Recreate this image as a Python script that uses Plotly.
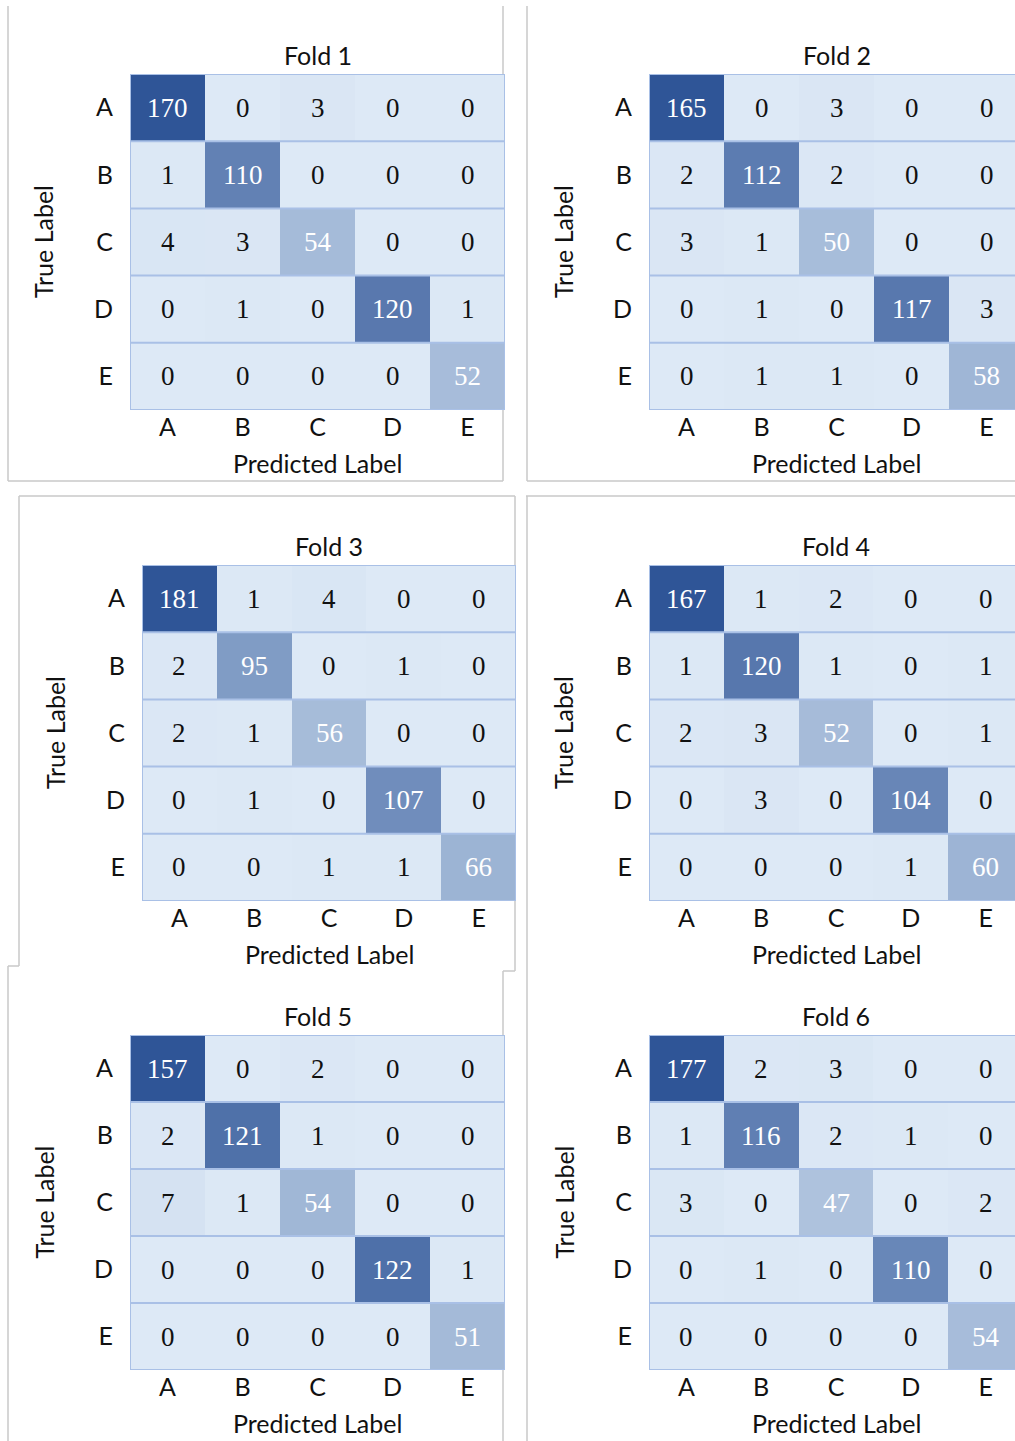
import plotly.graph_objects as go

W, H = 1015, 1441

labels = ["A", "B", "C", "D", "E"]
fold_names = ["Fold 1", "Fold 2", "Fold 3", "Fold 4", "Fold 5", "Fold 6"]

fold1 = [[170, 0, 3, 0, 0], [1, 110, 0, 0, 0], [4, 3, 54, 0, 0], [0, 1, 0, 120, 1], [0, 0, 0, 0, 52]]
fold2 = [[165, 0, 3, 0, 0], [2, 112, 2, 0, 0], [3, 1, 50, 0, 0], [0, 1, 0, 117, 3], [0, 1, 1, 0, 58]]
fold3 = [[181, 1, 4, 0, 0], [2, 95, 0, 1, 0], [2, 1, 56, 0, 0], [0, 1, 0, 107, 0], [0, 0, 1, 1, 66]]
fold4 = [[167, 1, 2, 0, 0], [1, 120, 1, 0, 1], [2, 3, 52, 0, 1], [0, 3, 0, 104, 0], [0, 0, 0, 1, 60]]
fold5 = [[157, 0, 2, 0, 0], [2, 121, 1, 0, 0], [7, 1, 54, 0, 0], [0, 0, 0, 122, 1], [0, 0, 0, 0, 51]]
fold6 = [[177, 2, 3, 0, 0], [1, 116, 2, 1, 0], [3, 0, 47, 0, 2], [0, 1, 0, 110, 0], [0, 0, 0, 0, 54]]
folds = [fold1, fold2, fold3, fold4, fold5, fold6]

x_title = "Predicted Label"
y_title = "True Label"

# layout (pixels): heatmap box x0, x1, y0, y1 ; y-title x
boxes = [
    (130, 505, 74, 410, 43),
    (649, 1024, 74, 410, 563),
    (142, 516, 565, 901, 55),
    (649, 1023, 565, 901, 563),
    (130, 505, 1035, 1370, 43),
    (649, 1023, 1035, 1370, 563),
]

SANS = "Lato, 'Open Sans', sans-serif"
SERIF = "'Liberation Serif', 'DejaVu Serif', serif"
TXT = "#111111"
COLORSCALE = [[0, "#dde9f6"], [0.52, "#819dc6"], [0.66, "#5f7eb2"], [1, "#2f5597"]]
BORDER = "#a9c0e6"
FRAME = "#c9c9c9"


def px(x):
    return x / W


def py(y):
    return 1 - y / H


fig = go.Figure()
annotations = []
shapes = []

for k, (z, name, box) in enumerate(zip(folds, fold_names, boxes), start=1):
    x0, x1, y0, y1, ytx = box
    cw = (x1 - x0) / 5.0
    xe = min(x1, W)
    xr_hi = -0.5 + (xe - x0) / cw
    xa = "x" if k == 1 else f"x{k}"
    ya = "y" if k == 1 else f"y{k}"
    zmax = max(max(r) for r in z)
    fig.add_trace(go.Heatmap(
        z=z, x=labels, y=labels, xaxis=xa, yaxis=ya,
        zmin=0, zmax=zmax, colorscale=COLORSCALE,
        showscale=False, hoverinfo="skip",
    ))
    axis_common = dict(showgrid=False, zeroline=False, showline=False, ticks="",
                       tickfont=dict(family=SANS, size=25, color=TXT), fixedrange=True)
    fig.layout[("xaxis" if k == 1 else f"xaxis{k}")] = dict(
        domain=[px(x0), px(xe)], range=[-0.5, xr_hi], anchor=ya, side="bottom",
        ticklabelstandoff=0, **axis_common)
    fig.layout[("yaxis" if k == 1 else f"yaxis{k}")] = dict(
        domain=[py(y1), py(y0)], range=[4.5, -0.5], anchor=xa,
        ticklabelstandoff=16, **axis_common)

    # values
    for i, row in enumerate(z):
        for j, v in enumerate(row):
            annotations.append(dict(
                x=labels[j], y=labels[i], xref=xa, yref=ya, text=str(v), showarrow=False,
                font=dict(family=SERIF, size=27, color="white" if i == j else TXT)))
    # row borders
    for b in [-0.5, 0.5, 1.5, 2.5, 3.5, 4.5]:
        shapes.append(dict(type="line", xref=xa, yref=ya, x0=-0.5, x1=4.5, y0=b, y1=b,
                           line=dict(color=BORDER, width=2)))
    for b in [-0.5, 4.5]:
        shapes.append(dict(type="line", xref=xa, yref=ya, x0=b, x1=b, y0=-0.5, y1=4.5,
                           line=dict(color=BORDER, width=2)))

    cx = (x0 + x1) / 2
    annotations.append(dict(x=px(cx), y=py(y0 - 19), xref="paper", yref="paper", text=name,
                            showarrow=False, xanchor="center", yanchor="middle",
                            font=dict(family=SANS, size=25, color=TXT)))
    annotations.append(dict(x=px(cx), y=py(y1 + 53), xref="paper", yref="paper", text=x_title,
                            showarrow=False, xanchor="center", yanchor="middle",
                            font=dict(family=SANS, size=25, color=TXT)))
    annotations.append(dict(x=px(ytx), y=py((y0 + y1) / 2), xref="paper", yref="paper",
                            text=y_title, textangle=-90, showarrow=False,
                            xanchor="center", yanchor="middle",
                            font=dict(family=SANS, size=25, color=TXT)))

# panel frames (pixel segments)
frame_segs = [
    (8, 6, 8, 481), (8, 481, 503, 481), (503, 6, 503, 481),
    (527, 6, 527, 481), (527, 481, 1015, 481),
    (19, 496, 515, 496), (19, 496, 19, 966), (515, 496, 515, 971),
    (8, 966, 19, 966), (503, 971, 515, 971),
    (526, 496, 1015, 496), (527, 496, 527, 1441),
    (8, 966, 8, 1441), (503, 971, 503, 1441),
]
for (a, b, c, d) in frame_segs:
    shapes.append(dict(type="line", xref="paper", yref="paper",
                       x0=px(a), y0=py(b), x1=px(c), y1=py(d),
                       line=dict(color=FRAME, width=1.5), layer="below"))

fig.update_layout(
    width=W, height=H, margin=dict(l=0, r=0, t=0, b=0),
    paper_bgcolor="white", plot_bgcolor="white",
    annotations=annotations, shapes=shapes, showlegend=False,
)

fig.write_html(
    "out.html",
    config={"displayModeBar": False},
    post_script="document.body.style.margin='0';document.body.style.padding='0';"
                "document.body.style.overflow='hidden';",
)
